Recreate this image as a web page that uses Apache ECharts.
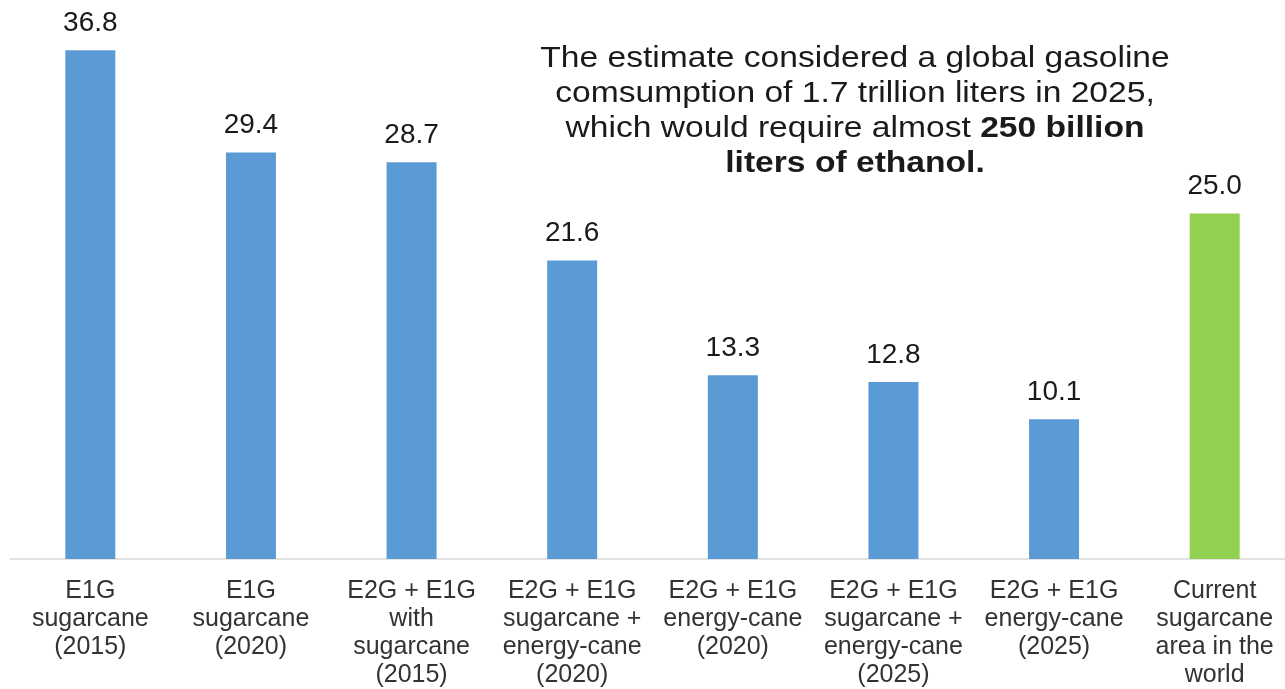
<!DOCTYPE html>
<html>
<head>
<meta charset="utf-8">
<script src="https://cdn.jsdelivr.net/npm/echarts@6/dist/echarts.min.js"></script>
<style>
  html, body { margin: 0; padding: 0; background: #fff; overflow: hidden; }
  /* the plot runs slightly past the right edge of the window */
  #chart { width: 1295px; height: 689px; }
</style>
</head>
<body>
<div id="chart"></div>
<script>
// Land area needed (million hectares) under each ethanol production scenario
const categories = [
  'E1G\nsugarcane\n(2015)',
  'E1G\nsugarcane\n(2020)',
  'E2G + E1G\nwith\nsugarcane\n(2015)',
  'E2G + E1G\nsugarcane +\nenergy-cane\n(2020)',
  'E2G + E1G\nenergy-cane\n(2020)',
  'E2G + E1G\nsugarcane +\nenergy-cane\n(2025)',
  'E2G + E1G\nenergy-cane\n(2025)',
  'Current\nsugarcane\narea in the\nworld'
];
const areaValues = [36.8, 29.4, 28.7, 21.6, 13.3, 12.8, 10.1, 25.0];
const currentIndex = 7;

const BLUE = '#5B9BD5';
const GREEN = '#92D050';
const FONT = '"Liberation Sans", Arial, sans-serif';

const chart = echarts.init(document.getElementById('chart'));

chart.setOption({
  backgroundColor: '#ffffff',
  animation: false,
  grid: { left: 10, top: 6, right: 0, bottom: 128, containLabel: false },
  xAxis: {
    type: 'category',
    data: categories,
    boundaryGap: true,
    axisLine: { show: true, lineStyle: { color: '#d9d9d9', width: 1.5 } },
    axisTick: { show: false },
    axisLabel: {
      interval: 0,
      margin: 18,
      color: '#333333',
      fontFamily: FONT,
      fontSize: 25,
      lineHeight: 28
    }
  },
  yAxis: {
    type: 'value',
    min: 0,
    max: 40,
    show: false,
    splitLine: { show: false }
  },
  series: [{
    type: 'bar',
    barWidth: 50,
    data: areaValues.map((v, i) => ({
      value: v,
      itemStyle: { color: i === currentIndex ? GREEN : BLUE }
    })),
    label: {
      show: true,
      position: 'top',
      distance: 13,
      color: '#1a1a1a',
      fontFamily: FONT,
      fontSize: 28,
      formatter: p => p.value.toFixed(1)
    }
  }],
  graphic: [{
    type: 'text',
    x: 855,
    y: 41,
    scaleX: 1.12,
    style: {
      text: 'The estimate considered a global gasoline\n' +
            'comsumption of 1.7 trillion liters in 2025,\n' +
            'which would require almost {b|250 billion}\n' +
            '{b|liters of ethanol.}',
      align: 'center',
      verticalAlign: 'top',
      fill: '#1a1a1a',
      font: '30px ' + FONT,
      lineHeight: 35,
      rich: {
        b: { fontWeight: 'bold', fontSize: 30, fontFamily: FONT, fill: '#1a1a1a', lineHeight: 35 }
      }
    }
  }]
});
</script>
</body>
</html>
